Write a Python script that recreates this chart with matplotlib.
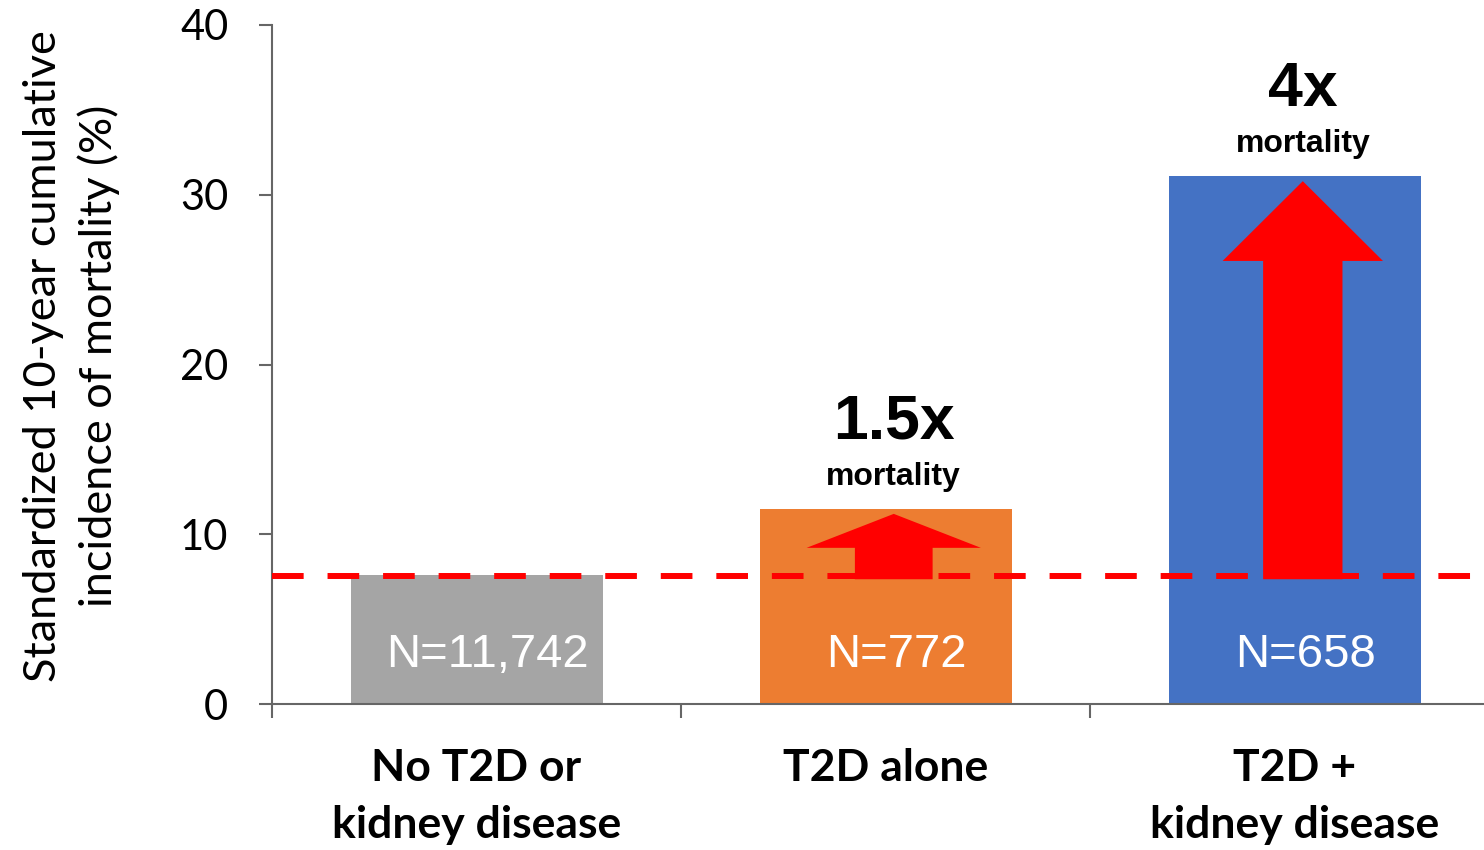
import matplotlib.pyplot as plt
from matplotlib.patches import FancyArrow

# --- data ---
categories = ["No T2D or\nkidney disease", "T2D alone", "T2D +\nkidney disease"]
values = [7.6, 11.5, 31.1]
n_labels = ["N=11,742", "N=772", "N=658"]
baseline = 7.55
ratio_labels = ["", "1.5x", "4x"]
bar_colors = ["#A5A5A5", "#ED7D31", "#4472C4"]
yticks = [0, 10, 20, 30, 40]

CAL = "Lato"
ARIAL = "Liberation Sans"

fig = plt.figure(figsize=(14.84, 8.5), dpi=100)
ax = fig.add_axes([272 / 1484, 146 / 850, 1 - 272 / 1484, 679 / 850])

x = list(range(len(categories)))
ax.bar(x, values, width=0.616, color=bar_colors, zorder=2)

# dashed reference line
ax.axhline(baseline, color="#FF0000", lw=4.3, ls=(0, (5.3, 4)), zorder=3)

# N labels inside bars
for xi, lab in zip(x, n_labels):
    ax.text(xi + 0.027, 2.9, lab, color="white", fontsize=34, family=ARIAL,
            ha="center", va="center", zorder=5)

# red arrows + ratio labels
arrow_geom = {1: (0.095, 0.213, 2.0), 2: (0.097, 0.196, 4.7)}
for xi, (hw, hhw, hl) in arrow_geom.items():
    top = values[xi] - 0.3
    ax.add_patch(FancyArrow(xi + 0.02, baseline - 0.2, 0, top - baseline + 0.2,
                            width=2 * hw, head_width=2 * hhw, head_length=hl,
                            length_includes_head=True, color="#FF0000", lw=0,
                            zorder=4))
    ax.text(xi + 0.02, values[xi] + 5.1, ratio_labels[xi], fontsize=45,
            fontweight="bold", family=ARIAL, ha="center", va="center")
    ax.text(xi + 0.02, values[xi] + 1.9, "mortality", fontsize=23,
            fontweight="bold", family=ARIAL, ha="center", va="center")

# axes styling
for s in ["top", "right"]:
    ax.spines[s].set_visible(False)
for s in ["left", "bottom"]:
    ax.spines[s].set_color("#666666")
    ax.spines[s].set_linewidth(1.5)

ax.set_yticks(yticks)
ax.set_yticklabels([str(t) for t in yticks], fontsize=30, family=CAL)
ax.tick_params(axis="y", length=9.5, width=1.5, color="#666666", pad=22)

ax.set_xticks([-0.5, 0.5, 1.5, 2.5])
ax.set_xticklabels([])
ax.tick_params(axis="x", which="major", length=10, width=1.5, color="#666666")
ax.set_xticks(x, minor=True)
ax.set_xticklabels(categories, minor=True, fontsize=32, fontweight="bold",
                   family=CAL, linespacing=1.5)
ax.tick_params(axis="x", which="minor", length=0, pad=32)

ax.set_xlim(-0.5, 2.463)
ax.set_ylim(0, 40)

ax.set_ylabel("Standardized 10-year cumulative\nincidence of mortality (%)",
              fontsize=32.5, family=CAL, linespacing=1.4)
ax.yaxis.set_label_coords(-0.125, 0.513)

fig.savefig("out.png", dpi=100)
